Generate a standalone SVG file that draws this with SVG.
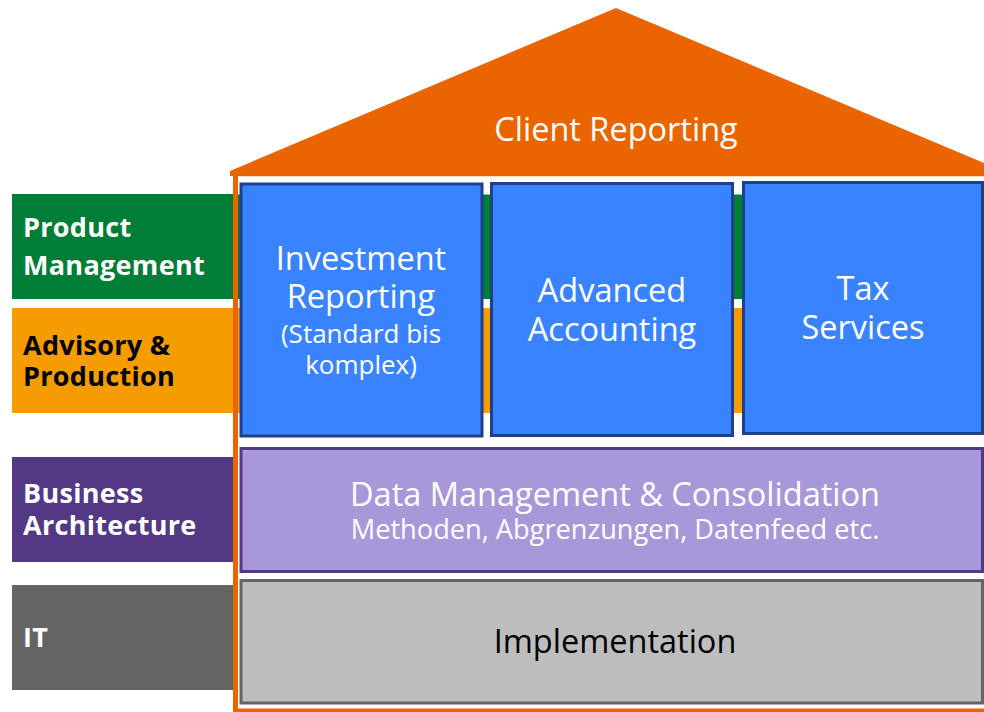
<svg xmlns="http://www.w3.org/2000/svg" width="984" height="712" viewBox="0 0 984 712">
  <style>
    .lbl { font-family: "Open Sans", "Noto Sans", "Liberation Sans", sans-serif; font-weight: bold; font-size: 27px; letter-spacing: 0.3px; }
    .main { font-family: "Open Sans", "Noto Sans", "Liberation Sans", sans-serif; font-size: 32.5px; text-anchor: middle; fill: #ffffff; }
    .sub { font-family: "Open Sans", "Noto Sans", "Liberation Sans", sans-serif; font-size: 26px; text-anchor: middle; fill: #ffffff; }
    .pillar { fill: #3a83ff; stroke: #1f3f8a; stroke-width: 3; }
  </style>

  <rect width="984" height="712" fill="#ffffff"/>

  <!-- role bands on the left, continuing behind the pillars -->
  <g id="product-management">
    <rect x="12" y="194" width="972" height="105" fill="#007d37"/>
    <text class="lbl" fill="#ffffff"><tspan x="23" y="237">Product</tspan><tspan x="23" y="275">Management</tspan></text>
  </g>
  <g id="advisory-production">
    <rect x="12" y="308" width="972" height="105" fill="#f59c00"/>
    <text class="lbl" fill="#000000"><tspan x="23" y="355">Advisory &amp;</tspan><tspan x="23" y="386">Production</tspan></text>
  </g>
  <g id="business-architecture">
    <rect x="12" y="457" width="222" height="105" fill="#533885"/>
    <text class="lbl" fill="#ffffff"><tspan x="23" y="503">Business</tspan><tspan x="23" y="535">Architecture</tspan></text>
  </g>
  <g id="it">
    <rect x="12" y="585" width="222" height="105" fill="#646464"/>
    <text class="lbl" fill="#ffffff" x="23" y="647">IT</text>
  </g>

  <!-- house body -->
  <g id="house">
    <rect x="235.5" y="174" width="760" height="537" fill="none" stroke="#ea6500" stroke-width="5"/>
    <rect x="238" y="176.5" width="746" height="18" fill="#ffffff"/>
  </g>

  <!-- roof -->
  <g id="client-reporting">
    <polygon points="616,8 984,163 984,176 230,176 230,171" fill="#ea6500"/>
    <text class="main" x="616" y="141">Client Reporting</text>
  </g>

  <!-- pillars -->
  <g id="investment-reporting">
    <rect class="pillar" x="241" y="184" width="241" height="252"/>
    <text class="main"><tspan x="361" y="270">Investment</tspan><tspan x="361" y="308">Reporting</tspan></text>
    <text class="sub"><tspan x="361" y="343">(Standard bis</tspan><tspan x="361" y="374">komplex)</tspan></text>
  </g>
  <g id="advanced-accounting">
    <rect class="pillar" x="491.5" y="183.5" width="241" height="252"/>
    <text class="main"><tspan x="612" y="302">Advanced</tspan><tspan x="612" y="341">Accounting</tspan></text>
  </g>
  <g id="tax-services">
    <rect class="pillar" x="743.5" y="182.5" width="239" height="251"/>
    <text class="main"><tspan x="863" y="300">Tax</tspan><tspan x="863" y="339">Services</tspan></text>
  </g>

  <!-- foundation layers -->
  <g id="data-management">
    <rect x="241" y="448.5" width="741.5" height="123" fill="#a898da" stroke="#533885" stroke-width="3"/>
    <text class="main" x="615" y="506">Data Management &amp; Consolidation</text>
    <text class="sub" x="615" y="539" style="font-size:27.2px">Methoden, Abgrenzungen, Datenfeed etc.</text>
  </g>
  <g id="implementation">
    <rect x="241" y="580.5" width="741.5" height="122.5" fill="#bdbdbd" stroke="#646464" stroke-width="3"/>
    <text class="main" x="615" y="653" style="fill:#000000">Implementation</text>
  </g>
</svg>
